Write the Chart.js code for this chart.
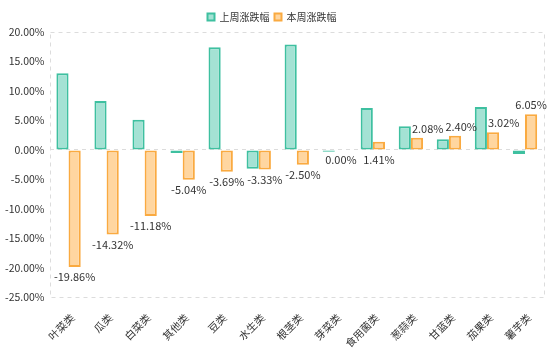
<!DOCTYPE html>
<html>
<head>
<meta charset="utf-8">
<script src="https://cdn.jsdelivr.net/npm/chart.js@4"></script>
<style>
    html, body { margin: 0; padding: 0; background: #fff; }
    #wrap { width: 554px; height: 358px; }
</style>
</head>
<body>
<div id="wrap"><canvas id="grafico"></canvas></div>
<script>
// Datos
const categorias = ["叶菜类", "瓜类", "白菜类", "其他类", "豆类", "水生类", "根茎类", "芽菜类", "食用菌类", "葱蒜类", "甘蓝类", "茄果类", "薯芋类"];
const semanaPasada = [13.0, 8.3, 5.1, -0.5, 17.4, -3.2, 17.9, -0.3, 7.1, 4.0, 1.8, 7.3, -0.7];
const semanaActual = [-19.86, -14.32, -11.18, -5.04, -3.69, -3.33, -2.50, 0.00, 1.41, 2.08, 2.40, 3.02, 6.05];
const nombresSeries = ["上周涨跌幅", "本周涨跌幅"];

const fuente = "'Noto Sans CJK SC', 'Noto Sans', sans-serif";

// Borde punteado del área del gráfico
const bordePunteado = {
    id: "bordePunteado",
    beforeDatasetsDraw(chart) {
        const { ctx, chartArea: a } = chart;
        ctx.save();
        ctx.strokeStyle = "#dcdcdc";
        ctx.lineWidth = 1;
        ctx.setLineDash([4, 4]);
        ctx.strokeRect(Math.round(a.left) + 0.5, Math.round(a.top) + 0.5,
            Math.round(a.right - a.left), Math.round(a.bottom - a.top));
        ctx.restore();
    }
};

// Rectángulo de una barra
function rectBarra(bar) {
    const x0 = Math.min(bar.x - bar.width / 2, bar.x + bar.width / 2);
    return { l: x0 - 1, r: x0 + bar.width + 1, t: Math.min(bar.y, bar.base) - 1, b: Math.max(bar.y, bar.base) + 1 };
}
function choca(caja, cajas) {
    return cajas.some((r) => caja.l < r.r && caja.r > r.l && caja.t < r.b && caja.b > r.t);
}

// Etiquetas de valores (solo la serie de esta semana), evitando solaparse
const etiquetas = {
    id: "etiquetas",
    afterDatasetsDraw(chart) {
        const { ctx } = chart;
        const meta = chart.getDatasetMeta(1);
        const barrasPrevias = chart.getDatasetMeta(0).data.map(rectBarra);
        const colocadas = [];
        const alto = 12;
        ctx.save();
        ctx.font = "11px " + fuente;
        ctx.fillStyle = "#333";
        ctx.textAlign = "left";
        ctx.textBaseline = "middle";
        meta.data.forEach((bar, i) => {
            const v = semanaActual[i];
            const texto = v.toFixed(2) + "%";
            const ancho = ctx.measureText(texto).width;
            const caja = (x, y) => ({ l: x, r: x + ancho, t: y - alto / 2, b: y + alto / 2 });
            let x = bar.x - ancho / 2;
            let y;
            if (v > 0) {
                y = bar.y - 9;
                if (choca(caja(x, y), barrasPrevias)) {
                    x = rectBarra(chart.getDatasetMeta(0).data[i]).r;
                    if (choca(caja(x, y), barrasPrevias)) {
                        x = bar.x - ancho / 2;
                        y = bar.base + 10;
                    }
                }
                const ultima = colocadas[colocadas.length - 1];
                if (ultima && choca(caja(x, y), [ultima])) {
                    x = ultima.r + 2;
                }
            } else {
                y = bar.y + 10;
            }
            colocadas.push(caja(x, y));
            ctx.fillText(texto, x, y);
        });
        ctx.restore();
    }
};

new Chart(document.getElementById("grafico").getContext("2d"), {
    type: "bar",
    data: {
        labels: categorias,
        datasets: [
            {
                label: nombresSeries[0],
                data: semanaPasada,
                backgroundColor: "rgb(164, 226, 212)",
                borderColor: "rgb(62, 192, 160)",
                borderWidth: 2,
                borderSkipped: false,
                categoryPercentage: 0.64,
                barPercentage: 1.0,
            },
            {
                label: nombresSeries[1],
                data: semanaActual,
                backgroundColor: "rgb(255, 214, 160)",
                borderColor: "rgb(250, 170, 64)",
                borderWidth: 2,
                borderSkipped: false,
                categoryPercentage: 0.64,
                barPercentage: 1.0,
            },
        ],
    },
    options: {
        responsive: true,
        maintainAspectRatio: false,
        animation: false,
        layout: { padding: { left: 0, right: 10, top: 7, bottom: 2 } },
        plugins: {
            legend: {
                position: "top",
                labels: {
                    boxWidth: 7,
                    boxHeight: 7,
                    padding: 5,
                    color: "#333",
                    font: { family: fuente, size: 10 },
                },
            },
            tooltip: { enabled: false },
        },
        scales: {
            y: {
                min: -25,
                max: 20,
                ticks: {
                    stepSize: 5,
                    color: "#333",
                    font: { family: fuente, size: 10.5 },
                    padding: 5,
                    callback: (v) => v.toFixed(2) + "%",
                },
                grid: {
                    drawTicks: false,
                    color: (c) => (c.tick && c.tick.value === 0 ? "#dcdcdc" : "rgba(0,0,0,0)"),
                },
                border: { display: false, dash: [4, 4] },
            },
            x: {
                ticks: {
                    color: "#333",
                    font: { family: fuente, size: 10.5 },
                    minRotation: 45,
                    maxRotation: 45,
                    autoSkip: false,
                    labelOffset: 4,
                    padding: 6,
                },
                grid: { display: false },
                border: { display: false },
            },
        },
    },
    plugins: [bordePunteado, etiquetas],
});
</script>
</body>
</html>
